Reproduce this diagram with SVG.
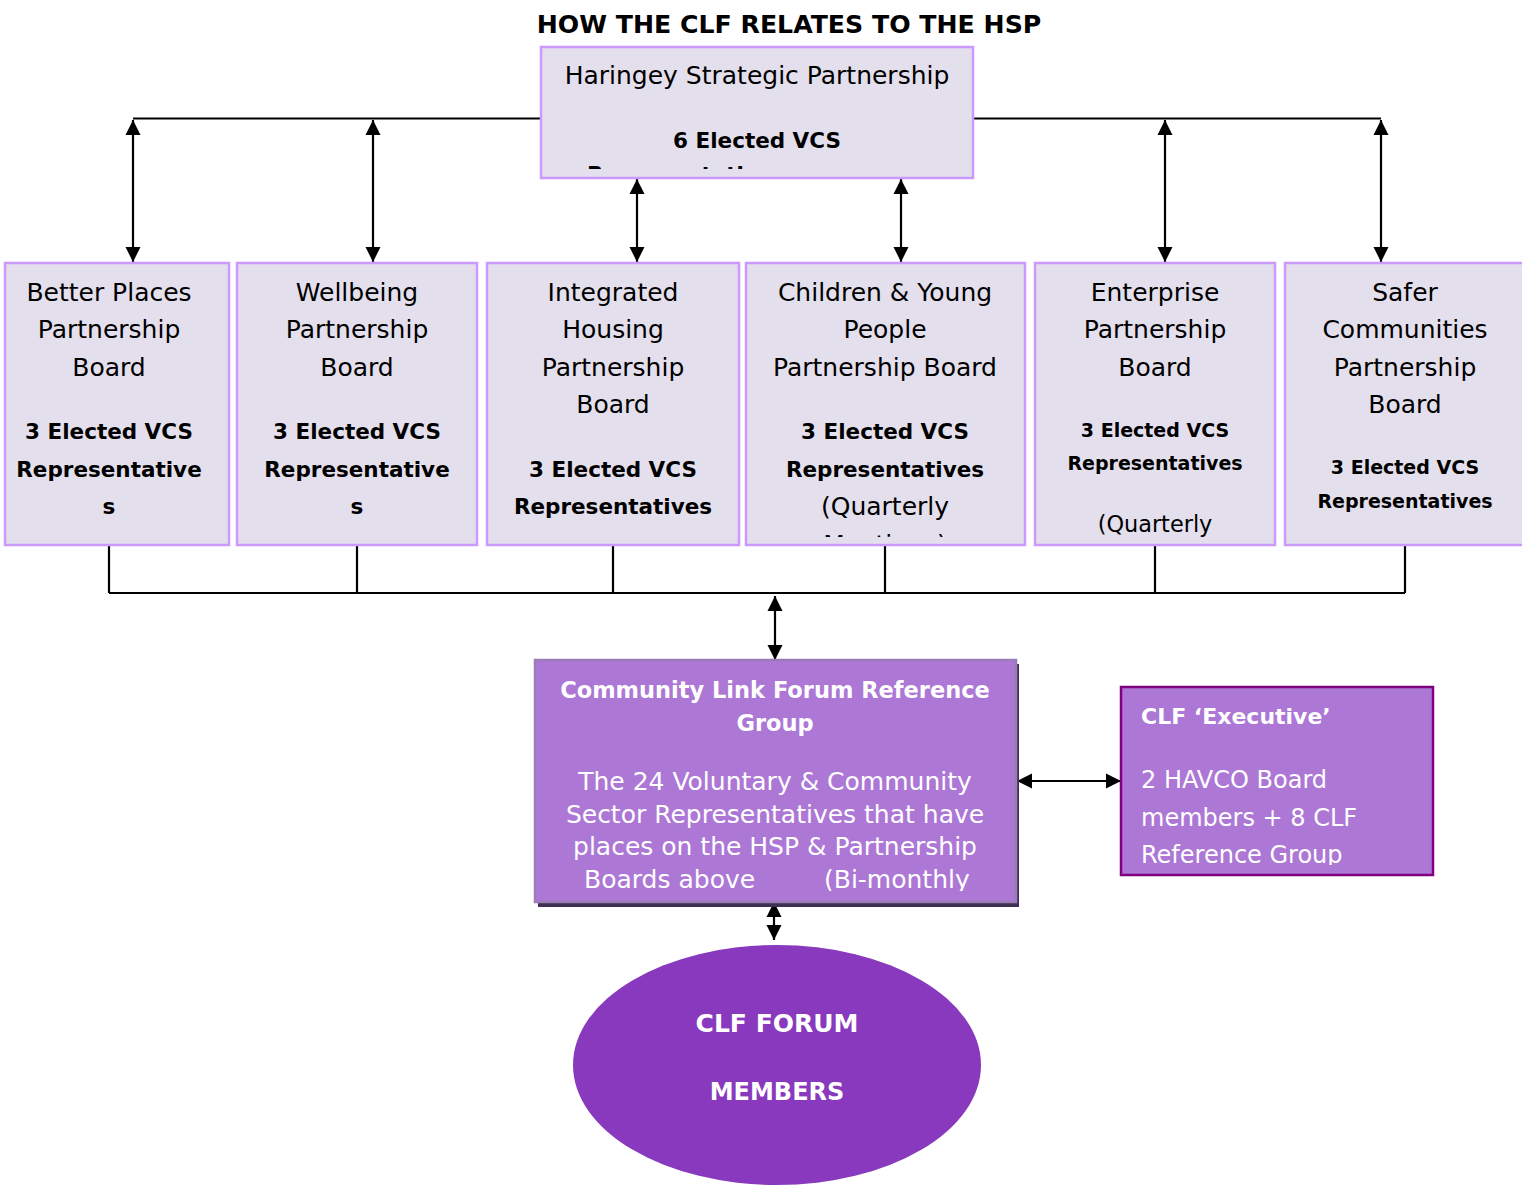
<svg xmlns="http://www.w3.org/2000/svg" width="1522" height="1185" viewBox="0 0 1522 1185">
<style>
text{font-family:"DejaVu Sans","Liberation Sans",sans-serif;}
.r{font-size:25px;fill:#000;text-anchor:middle;}
.b{font-size:21.5px;font-weight:bold;fill:#000;text-anchor:middle;}
.bs{font-size:19px;font-weight:bold;fill:#000;text-anchor:middle;}
.rs{font-size:22.4px;fill:#000;text-anchor:middle;}
.w{fill:#fff;}
.box{fill:#e4dfec;stroke:#cc99ff;stroke-width:2.5;}
.ln{stroke:#000;stroke-width:2.2;fill:none;}
.ar{stroke:#000;stroke-width:2.2;fill:none;marker-start:url(#ah);marker-end:url(#ah);}
</style>
<defs>
<marker id="ah" viewBox="0 -8 15 16" refX="15" refY="0" markerWidth="15" markerHeight="16" markerUnits="userSpaceOnUse" orient="auto-start-reverse">
<path d="M0,-7.5 L15,0 L0,7.5 z" fill="#000"/>
</marker>
<clipPath id="cHSP"><rect x="541" y="47" width="432" height="122"/></clipPath>
<clipPath id="cRow"><rect x="0" y="263" width="1522" height="274"/></clipPath>
<clipPath id="cCLF"><rect x="535" y="660" width="481" height="231"/></clipPath>
<clipPath id="cEx"><rect x="1121" y="687" width="312" height="178"/></clipPath>
</defs>

<text x="789" y="33" style="font-size:25.2px;font-weight:bold;text-anchor:middle;fill:#000">HOW THE CLF RELATES TO THE HSP</text>

<g id="connectors">
<path class="ln" d="M133,118.5 H541 M973,118.5 H1381"/>
<path class="ar" d="M133,120 V262"/>
<path class="ar" d="M373,120 V262"/>
<path class="ar" d="M1165,120 V262"/>
<path class="ar" d="M1381,120 V262"/>
<path class="ar" d="M637,179 V262"/>
<path class="ar" d="M901,179 V262"/>
<path class="ln" d="M109,545 V593 M357,545 V593 M613,545 V593 M885,545 V593 M1155,545 V593 M1405,545 V593 M109,593 H1405"/>
<path class="ar" d="M775,596 V660"/>
<path class="ar" d="M1017,781 H1121"/>
<path class="ar" d="M774,902 V940"/>
</g>

<g id="hsp">
<rect class="box" x="541" y="47" width="432" height="131"/>
<g clip-path="url(#cHSP)">
<text class="r" x="757" y="84">Haringey Strategic Partnership</text>
<text class="b" x="757" y="148">6 Elected VCS</text>
<text class="b" x="587" y="182" style="text-anchor:start">Representatives</text>
</g>
</g>

<g id="better-places">
<rect class="box" x="5" y="263" width="224" height="282"/>
<text class="r" x="109" y="301">Better Places</text>
<text class="r" x="109" y="338">Partnership</text>
<text class="r" x="109" y="376">Board</text>
<text class="b" x="109" y="439">3 Elected VCS</text>
<text class="b" x="109" y="477">Representative</text>
<text class="b" x="109" y="514">s</text>
</g>

<g id="wellbeing">
<rect class="box" x="237" y="263" width="240" height="282"/>
<text class="r" x="357" y="301">Wellbeing</text>
<text class="r" x="357" y="338">Partnership</text>
<text class="r" x="357" y="376">Board</text>
<text class="b" x="357" y="439">3 Elected VCS</text>
<text class="b" x="357" y="477">Representative</text>
<text class="b" x="357" y="514">s</text>
</g>

<g id="housing">
<rect class="box" x="487" y="263" width="252" height="282"/>
<text class="r" x="613" y="301">Integrated</text>
<text class="r" x="613" y="338">Housing</text>
<text class="r" x="613" y="376">Partnership</text>
<text class="r" x="613" y="413">Board</text>
<text class="b" x="613" y="477">3 Elected VCS</text>
<text class="b" x="613" y="514">Representatives</text>
</g>

<g id="children">
<rect class="box" x="746" y="263" width="279" height="282"/>
<g clip-path="url(#cRow)">
<text class="r" x="885" y="301">Children &amp; Young</text>
<text class="r" x="885" y="338">People</text>
<text class="r" x="885" y="376">Partnership Board</text>
<text class="b" x="885" y="439">3 Elected VCS</text>
<text class="b" x="885" y="477">Representatives</text>
<text class="r" x="885" y="515">(Quarterly</text>
<text class="r" x="885" y="553">Meetings)</text>
</g>
</g>

<g id="enterprise">
<rect class="box" x="1035" y="263" width="240" height="282"/>
<g clip-path="url(#cRow)">
<text class="r" x="1155" y="301">Enterprise</text>
<text class="r" x="1155" y="338">Partnership</text>
<text class="r" x="1155" y="376">Board</text>
<text class="bs" x="1155" y="437">3 Elected VCS</text>
<text class="bs" x="1155" y="470">Representatives</text>
<text class="rs" x="1155" y="532">(Quarterly</text>
</g>
</g>

<g id="safer">
<rect class="box" x="1285" y="263" width="250" height="282"/>
<text class="r" x="1405" y="301">Safer</text>
<text class="r" x="1405" y="338">Communities</text>
<text class="r" x="1405" y="376">Partnership</text>
<text class="r" x="1405" y="413">Board</text>
<text class="bs" x="1405" y="474">3 Elected VCS</text>
<text class="bs" x="1405" y="508">Representatives</text>
</g>

<g id="clf-reference-group">
<rect x="538" y="664" width="481" height="243" fill="#3f2f52"/>
<rect x="535" y="660" width="481" height="242" fill="#ad77d6" stroke="#9a7cb8" stroke-width="2.5"/>
<g clip-path="url(#cCLF)">
<text class="b w" x="775" y="698" style="font-size:22.5px">Community Link Forum Reference</text>
<text class="b w" x="775" y="731" style="font-size:22.5px">Group</text>
<text class="r w" x="775" y="790">The 24 Voluntary &amp; Community</text>
<text class="r w" x="775" y="823">Sector Representatives that have</text>
<text class="r w" x="775" y="855">places on the HSP &amp; Partnership</text>
<text class="r w" x="584" y="888" style="text-anchor:start">Boards above</text>
<text class="r w" x="824" y="888" style="text-anchor:start">(Bi-monthly</text>
</g>
</g>

<g id="clf-executive">
<rect x="1121" y="687" width="312" height="188" fill="#ad77d6" stroke="#800080" stroke-width="2.5"/>
<g clip-path="url(#cEx)">
<text class="b w" x="1141" y="724" style="text-anchor:start;font-size:22px">CLF ‘Executive’</text>
<text class="r w" x="1141" y="788" style="text-anchor:start;font-size:24px">2 HAVCO Board</text>
<text class="r w" x="1141" y="826" style="text-anchor:start;font-size:24px">members + 8 CLF</text>
<text class="r w" x="1141" y="863" style="text-anchor:start;font-size:24px">Reference Group</text>
</g>
</g>

<g id="clf-forum">
<ellipse cx="777" cy="1065" rx="204" ry="120" fill="#8839bd"/>
<text class="b w" x="777" y="1032" style="font-size:25px">CLF FORUM</text>
<text class="b w" x="777" y="1100" style="font-size:24px">MEMBERS</text>
</g>
</svg>
